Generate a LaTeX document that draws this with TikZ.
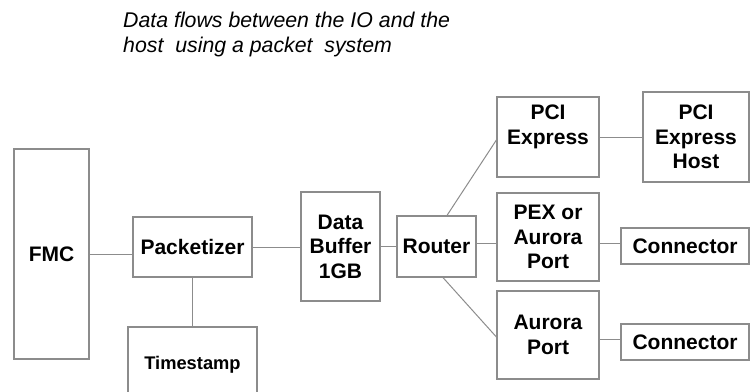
\documentclass[tikz,border=0pt]{standalone}
\usepackage{fontspec}
\setmainfont{Liberation Sans}
\usetikzlibrary{calc}
\definecolor{linegray}{rgb}{0.55,0.55,0.55}
\tikzset{
  block/.style={draw=linegray, line width=1.2pt, fill=white, align=center,
    inner sep=0pt, font=\bfseries\fontsize{21}{24.5}\selectfont},
  link/.style={draw=linegray, line width=1pt},
}

\begin{document}
\begin{tikzpicture}[x=1pt, y=-1pt]

%%%%%%%%%%%%%%%%%%%%%%%%%%%%%%%%%%%%%%%%%%%%%%%%%%%%%%%%%%%%%% Setup
\coordinate (C) at (0, 0);
% page size of the slide
\useasboundingbox ($(C)+(0,0)$) rectangle ($(C)+(751,391)$);
\clip ($(C)+(0,0)$) rectangle ($(C)+(751,391)$);

%%%%%%%%%%%%%%%%%%%%%%%%%%%%%%%%%%%%%%%%%%%%%%%%%%%%%%%%%%%%%% Caption
\node[anchor=north west, align=left, inner sep=0pt,
      font=\itshape\fontsize{21.3}{25}\selectfont] (caption) at ($(C)+(123,11.5)$)
      {Data flows between the IO and the\\host\ \ using a packet\ \ system};

%%%%%%%%%%%%%%%%%%%%%%%%%%%%%%%%%%%%%%%%%%%%%%%%%%%%%%%%%%%%%% Blocks
\node[block, minimum width=75,  minimum height=210] (fmc)  at ($(C)+(51.5,254)$)  {FMC};
\node[block, minimum width=119, minimum height=60]  (pkt)  at ($(C)+(192.5,247)$) {Packetizer};
\node[block, minimum width=129, minimum height=76,
      font=\bfseries\fontsize{18.3}{22}\selectfont] (ts) at ($(C)+(192.5,365)$) {Timestamp};
\node[block, minimum width=79,  minimum height=109] (buf)  at ($(C)+(340.5,246.5)$) {Data\\Buffer\\1GB};
\node[block, minimum width=79,  minimum height=61]  (rtr)  at ($(C)+(436.5,246.5)$) {Router};

\node[block, minimum width=102, minimum height=80]  (pcie) at ($(C)+(548,137)$)   {PCI\\Express\\\mbox{}};
\node[block, minimum width=102, minimum height=88]  (pex)  at ($(C)+(548,237)$)   {PEX or\\Aurora\\Port};
\node[block, minimum width=102, minimum height=88]  (aur)  at ($(C)+(548,335)$)   {Aurora\\Port};

\node[block, minimum width=106, minimum height=90]  (host) at ($(C)+(696,137)$)   {PCI\\Express\\Host};
\node[block, minimum width=128, minimum height=36]  (con1) at ($(C)+(685,246)$)   {Connector};
\node[block, minimum width=128, minimum height=36]  (con2) at ($(C)+(685,342)$)   {Connector};

%%%%%%%%%%%%%%%%%%%%%%%%%%%%%%%%%%%%%%%%%%%%%%%%%%%%%%%%%%%%%% Links
\draw[link] (fmc.east) -- (fmc.east -| pkt.west);
\draw[link] (pkt) -- (ts);
\draw[link] (pkt.east) -- (pkt.east -| buf.west);
\draw[link] (buf.east) -- (buf.east -| rtr.west);

\draw[link] ([xshift=10.5]rtr.north) -- ([yshift=-3]pcie.west);
\draw[link] ([yshift=3]rtr.east) -- ([yshift=3]rtr.east -| pex.west);
\draw[link] ([xshift=6.5]rtr.south) -- ([yshift=-2]aur.west);

\draw[link] (pcie) -- (host);
\draw[link] ([yshift=-6]pex.east) -- ([yshift=-6]pex.east -| con1.west);
\draw[link] ([yshift=-4]aur.east) -- ([yshift=-4]aur.east -| con2.west);

\end{tikzpicture}
\end{document}
